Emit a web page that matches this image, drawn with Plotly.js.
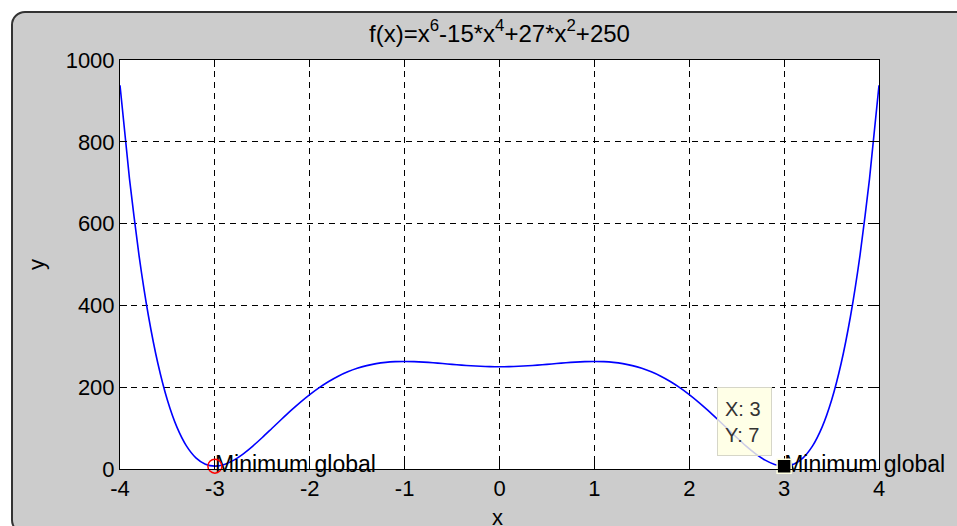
<!DOCTYPE html>
<html>
<head>
<meta charset="utf-8">
<script src="https://cdn.plot.ly/plotly-3.0.1.min.js"></script>
<style>
  html, body { margin: 0; padding: 0; background: #ffffff; overflow: hidden; }
  #panel { position: absolute; left: 11px; top: 11px; width: 1000px; height: 523px;
           box-sizing: border-box; border: 2px solid #333; border-radius: 14px; background: #cccccc; }
  #chart { position: absolute; left: 0; top: 0; width: 957px; height: 526px; }
</style>
</head>
<body>
<div id="panel"></div>
<div id="chart"></div>
<script>
// ---- data ----
const xVals = [-4.0,-3.9,-3.8,-3.7,-3.6,-3.5,-3.4,-3.3,-3.2,-3.1,-3.0,-2.9,-2.8,-2.7,-2.6,-2.5,-2.4,-2.3,-2.2,-2.1,
               -2.0,-1.9,-1.8,-1.7,-1.6,-1.5,-1.4,-1.3,-1.2,-1.1,-1.0,-0.9,-0.8,-0.7,-0.6,-0.5,-0.4,-0.3,-0.2,-0.1,
               0.0,0.1,0.2,0.3,0.4,0.5,0.6,0.7,0.8,0.9,1.0,1.1,1.2,1.3,1.4,1.5,1.6,1.7,1.8,1.9,
               2.0,2.1,2.2,2.3,2.4,2.5,2.6,2.7,2.8,2.9,3.0,3.1,3.2,3.3,3.4,3.5,3.6,3.7,3.8,3.9,4.0];
const yVals = [938,709.3,523.1,374.1,257.3,168.1,102.4,56.6,27.4,11.7,7,11.0,21.6,37.1,56.0,77.0,99.0,121.1,142.7,163.1,
               182,199.0,214.0,226.9,237.6,246.2,252.8,257.6,260.8,262.5,263,262.6,261.4,259.8,257.8,255.8,253.9,252.3,251.1,250.3,
               250,250.3,251.1,252.3,253.9,255.8,257.8,259.8,261.4,262.6,263,262.5,260.8,257.6,252.8,246.2,237.6,226.9,214.0,199.0,
               182,163.1,142.7,121.1,99.0,77.0,56.0,37.1,21.6,11.0,7,11.7,27.4,56.6,102.4,168.1,257.3,374.1,523.1,709.3,938];
const minX = [-3, 3];
const minY = [7, 7];
const minLabels = ['Minimum global', 'Minimum global'];
const xTicks = [-4, -3, -2, -1, 0, 1, 2, 3, 4];
const xTickText = ['-4', '-3', '-2', '-1', '0', '1', '2', '3', '4'];
const yTicks = [0, 200, 400, 600, 800, 1000];
const titleText = 'f(x)=x<sup>6</sup>-15*x<sup>4</sup>+27*x<sup>2</sup>+250';
const xTitle = 'x';
const yTitle = 'y';

const FONT = '"Liberation Sans", Arial, sans-serif';

const traces = [
  { x: xVals, y: yVals, type: 'scatter', mode: 'lines',
    line: { color: '#0000ff', width: 1.6, shape: 'spline', smoothing: 0.6 }, hoverinfo: 'skip' },
  { x: minX, y: minY, type: 'scatter', mode: 'text', text: minLabels, textposition: 'middle right',
    textfont: { family: FONT, size: 23, color: '#000' }, cliponaxis: false },
  { x: [minX[0]], y: [minY[0]], type: 'scatter', mode: 'markers', cliponaxis: false,
    marker: { symbol: 'circle-open', size: 14, color: '#ff0000', line: { width: 1.5, color: '#ff0000' } } },
  { x: [minX[1]], y: [minY[1]], type: 'scatter', mode: 'markers', cliponaxis: false,
    marker: { symbol: 'square', size: 14, color: '#000000', line: { width: 1.5, color: '#ffffe1' } } }
];

const axisCommon = {
  showgrid: true, gridcolor: '#000', gridwidth: 1, griddash: '6px,5px',
  showline: true, linecolor: '#000', linewidth: 1, mirror: 'ticks',
  ticks: 'inside', ticklen: 7, tickcolor: '#000', tickwidth: 1,
  zeroline: false, tickfont: { family: FONT, size: 22, color: '#000' }, automargin: false
};

const layout = {
  width: 957, height: 526,
  margin: { l: 120, r: 78, t: 60, b: 57 },
  paper_bgcolor: 'rgba(0,0,0,0)', plot_bgcolor: '#ffffff',
  showlegend: false,
  title: { text: titleText, x: 0.5, xref: 'paper', y: 0.937, yref: 'container', yanchor: 'middle',
           font: { family: FONT, size: 24, color: '#000' } },
  xaxis: Object.assign({}, axisCommon, { range: [-4, 4], tickvals: xTicks, ticktext: xTickText }),
  yaxis: Object.assign({}, axisCommon, { range: [0, 1000], tickvals: yTicks,
           title: { text: yTitle, standoff: 14, font: { family: FONT, size: 22, color: '#000' } } }),
  annotations: [{
    x: minX[1], y: minY[1], xref: 'x', yref: 'y',
    text: 'X: ' + minX[1] + '<br>Y: ' + minY[1],
    showarrow: false, xanchor: 'right', yanchor: 'bottom', xshift: -12, yshift: 10,
    align: 'left', width: 39, height: 53, borderpad: 7,
    bgcolor: 'rgba(255,255,225,0.8)', bordercolor: '#d6d6c8', borderwidth: 1,
    font: { family: FONT, size: 20, color: '#333' }
  }, {
    x: 0.497, y: 0, xref: 'paper', yref: 'paper', text: xTitle, showarrow: false,
    xanchor: 'center', yanchor: 'middle', yshift: -48,
    font: { family: FONT, size: 22, color: '#000' }
  }]
};

Plotly.newPlot('chart', traces, layout, { staticPlot: true });
</script>
</body>
</html>
